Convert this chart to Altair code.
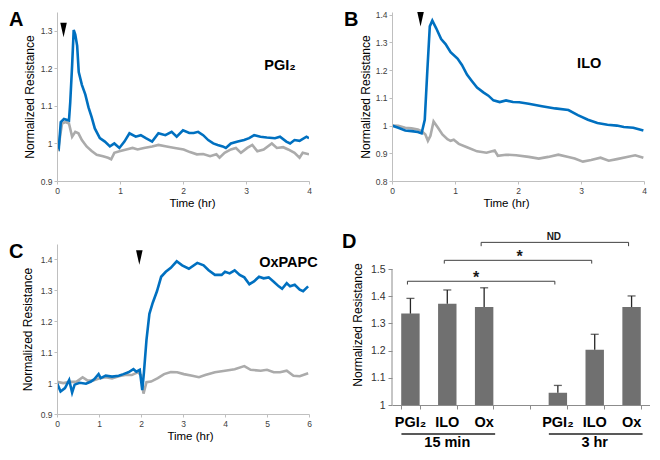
import altair as alt
import pandas as pd

# ---------------- data ----------------
a_blue_t = [0, 0.03, 0.06, 0.11, 0.19, 0.21, 0.24, 0.265, 0.29, 0.32, 0.345, 0.395, 0.45, 0.5, 0.55, 0.6,
            0.68, 0.76, 0.84, 0.91, 0.99, 1.07, 1.15, 1.25, 1.33, 1.41, 1.51, 1.61, 1.72, 1.82, 1.9, 2.0,
            2.1, 2.17, 2.24, 2.32, 2.40, 2.48, 2.55, 2.63, 2.68, 2.76, 2.87, 2.97, 3.05, 3.13, 3.23, 3.33,
            3.46, 3.54, 3.64, 3.70, 3.77, 3.85, 3.96, 4.0]
a_blue_v = [1.0, 0.99, 1.057, 1.065, 1.061, 1.109, 1.208, 1.302, 1.29, 1.26, 1.19, 1.156, 1.13, 1.096, 1.07,
            1.04, 1.014, 1.005, 0.992, 1.0, 0.988, 1.005, 1.027, 1.018, 1.022, 1.014, 1.005, 1.027, 1.022,
            1.031, 1.018, 1.035, 1.028, 1.028, 1.031, 1.022, 1.009, 1.0, 0.996, 0.992, 0.988, 1.0, 1.005,
            1.009, 1.014, 1.022, 1.018, 1.016, 1.014, 1.018, 1.005, 1.0, 1.009, 1.007, 1.018, 1.014]
a_gray_t = [0, 0.016, 0.05, 0.08, 0.135, 0.19, 0.24, 0.29, 0.34, 0.395, 0.47, 0.55, 0.63, 0.73, 0.81, 0.86,
            0.91, 0.99, 1.1, 1.2, 1.28, 1.38, 1.51, 1.61, 1.74, 1.87, 2.01, 2.11, 2.22, 2.32, 2.43, 2.53,
            2.58, 2.66, 2.76, 2.84, 2.92, 3.02, 3.10, 3.18, 3.28, 3.41, 3.49, 3.59, 3.67, 3.77, 3.85, 3.90, 4.0]
a_gray_v = [1.0, 0.98, 1.02, 1.053, 1.057, 1.053, 1.018, 1.031, 1.027, 1.009, 0.992, 0.98, 0.97, 0.966,
            0.962, 0.958, 0.975, 0.979, 0.984, 0.988, 0.984, 0.988, 0.992, 0.996, 0.992, 0.988, 0.984, 0.977,
            0.971, 0.972, 0.966, 0.971, 0.962, 0.975, 0.984, 0.988, 0.975, 0.988, 0.996, 0.979, 0.984, 1.0,
            0.988, 0.99, 0.984, 0.975, 0.962, 0.975, 0.971]

b_blue_t = [0, 0.1, 0.21, 0.31, 0.41, 0.47, 0.52, 0.56, 0.6, 0.64, 0.70, 0.78, 0.85, 0.93, 1.04, 1.11, 1.19,
            1.27, 1.35, 1.45, 1.53, 1.61, 1.71, 1.81, 1.92, 2.02, 2.17, 2.38, 2.59, 2.80, 2.95, 3.11, 3.26,
            3.42, 3.57, 3.68, 3.83, 3.99]
b_blue_v = [1.0, 0.992, 0.982, 0.98, 0.977, 0.972, 1.021, 1.195, 1.358, 1.379, 1.352, 1.312, 1.294, 1.265,
            1.242, 1.219, 1.184, 1.16, 1.137, 1.12, 1.108, 1.091, 1.085, 1.091, 1.085, 1.084, 1.079, 1.07,
            1.062, 1.056, 1.038, 1.021, 1.009, 1.003, 1.0, 0.995, 0.992, 0.982]
b_gray_t = [0, 0.1, 0.21, 0.31, 0.41, 0.47, 0.53, 0.57, 0.61, 0.66, 0.73, 0.80, 0.88, 0.93, 0.98, 1.06, 1.19,
            1.35, 1.50, 1.63, 1.68, 1.81, 1.97, 2.17, 2.33, 2.48, 2.64, 2.80, 2.90, 3.03, 3.16, 3.31, 3.44,
            3.57, 3.73, 3.86, 3.99]
b_gray_v = [1.0, 0.999, 0.992, 0.99, 0.986, 0.98, 0.968, 0.945, 0.963, 1.015, 0.992, 0.968, 0.951, 0.945,
            0.949, 0.934, 0.922, 0.907, 0.902, 0.91, 0.891, 0.895, 0.893, 0.887, 0.881, 0.887, 0.895, 0.887,
            0.881, 0.87, 0.876, 0.884, 0.873, 0.879, 0.887, 0.893, 0.884]

c_blue_t = [0, 0.085, 0.19, 0.29, 0.36, 0.42, 0.54, 0.69, 0.81, 0.89, 0.99, 1.04, 1.16, 1.31, 1.47, 1.58,
            1.70, 1.82, 1.89, 1.97, 2.03, 2.07, 2.13, 2.20, 2.28, 2.38, 2.48, 2.59, 2.71, 2.85, 2.98, 3.14,
            3.34, 3.49, 3.61, 3.76, 3.92, 4.0, 4.11, 4.23, 4.35, 4.46, 4.58, 4.69, 4.81, 4.92, 5.04, 5.16,
            5.28, 5.36, 5.47, 5.55, 5.66, 5.78, 5.86, 5.98]
c_blue_v = [1.0, 0.973, 0.984, 1.01, 0.969, 0.995, 1.001, 0.998, 1.005, 1.013, 1.029, 1.016, 1.024, 1.021,
            1.024, 1.029, 1.035, 1.045, 1.037, 1.043, 0.977, 1.035, 1.139, 1.224, 1.26, 1.297, 1.344, 1.36,
            1.373, 1.394, 1.381, 1.37, 1.389, 1.381, 1.365, 1.35, 1.35, 1.36, 1.355, 1.365, 1.35, 1.342,
            1.32, 1.329, 1.344, 1.339, 1.342, 1.328, 1.313, 1.305, 1.323, 1.313, 1.318, 1.302, 1.297, 1.313]
c_gray_t = [0, 0.15, 0.31, 0.46, 0.61, 0.73, 0.85, 1.0, 1.16, 1.31, 1.47, 1.62, 1.78, 1.92, 2.0, 2.06, 2.13,
            2.24, 2.4, 2.55, 2.71, 2.86, 3.02, 3.22, 3.38, 3.53, 3.76, 4.0, 4.23, 4.46, 4.61, 4.85, 5.0,
            5.16, 5.31, 5.47, 5.63, 5.78, 5.98]
c_gray_v = [1.004, 1.0, 1.004, 1.004, 1.019, 1.008, 1.008, 1.015, 1.019, 1.015, 1.022, 1.026, 1.026, 1.035,
            1.026, 0.966, 1.003, 1.005, 1.016, 1.029, 1.036, 1.035, 1.029, 1.024, 1.019, 1.026, 1.035, 1.04,
            1.045, 1.055, 1.043, 1.04, 1.043, 1.035, 1.035, 1.04, 1.024, 1.022, 1.032]

panel_letters = ["A", "B", "C", "D"]
panel_names = ["PGI₂", "ILO", "OxPAPC"]
name_t = [3.54, 3.13, 5.51]
name_v = [1.205, 1.222, 1.388]
arrow_t = [0.104, 0.453, 1.96]
arrow_v = [1.302, 1.384, 1.406]

yticks_a = [0.9, 1, 1.1, 1.2, 1.3]
yticks_b = [0.8, 0.9, 1, 1.1, 1.2, 1.3, 1.4]
yticks_c = [0.9, 1, 1.1, 1.2, 1.3, 1.4]
yticks_d = [1, 1.1, 1.2, 1.3, 1.4, 1.5]

bar_keys = ["PGI₂ 15 min", "ILO 15 min", "Ox 15 min", "gap", "PGI₂ 3 hr", "ILO 3 hr", "Ox 3 hr"]
bar_names = ["PGI₂", "ILO", "Ox", "", "PGI₂", "ILO", "Ox"]
bar_values = [1.336, 1.372, 1.36, None, 1.045, 1.203, 1.36]
bar_err_top = [1.392, 1.423, 1.431, None, 1.072, 1.26, 1.401]
groups = ["15 min", "3 hr"]
group_first = [0, 4]
group_last = [2, 6]
bracket_from = [0, 1, 2]
bracket_to = [4, 5, 6]
bracket_level = [1.455, 1.532, 1.598]
bracket_tip = [1.443, 1.520, 1.584]
bracket_label = ["*", "*", "ND"]

# ---------------- style ----------------
FONT = "Liberation Sans"
BLUE = "#0070C0"
GRAY = "#ABABAB"
AX = "#BFBFBF"
LBL = "#404040"
ARROW = "M-0.45,-1L0.45,-1L0,1Z"


def line_panel(bt, bv, gt, gv, xmax, ydom, yvals, w, h, letter, name, nt, nv, at, av,
               xtitle_x, ytitle_x):
    xs = alt.Scale(domain=[0, xmax], nice=False)
    ys = alt.Scale(domain=ydom, nice=False, zero=False)
    xax = alt.Axis(values=list(range(0, xmax + 1)), format="d", title="Time (hr)", tickSize=3,
                   labelPadding=2, titleX=xtitle_x, titleY=22, titleBaseline="middle",
                   titleFontSize=11.5, labelFlush=False, labelOverlap=False,
                   tickCount=xmax + 1)
    yax = alt.Axis(values=yvals, format=".1~f", title="Normalized Resistance", tickSize=3,
                   labelPadding=2, titleX=ytitle_x, titleY=h / 2, titleBaseline="middle",
                   labelOverlap=False, labelBound=False, labelFlush=False,
                   tickCount=len(yvals), zindex=1)

    def X(f):
        return alt.X(f, type="quantitative", scale=xs, axis=xax)

    def Y(f):
        return alt.Y(f, type="quantitative", scale=ys, axis=yax)

    gray = alt.Chart(pd.DataFrame({"t": gt, "v": gv})).mark_line(
        color=GRAY, strokeWidth=2.6, clip=True).encode(x=X("t"), y=Y("v"))
    blue = alt.Chart(pd.DataFrame({"t": bt, "v": bv})).mark_line(
        color=BLUE, strokeWidth=2.6, clip=True).encode(x=X("t"), y=Y("v"))
    txt = alt.Chart(pd.DataFrame({"t": [nt], "v": [nv], "s": [name]})).mark_text(
        font=FONT, fontSize=14.5, fontWeight="bold", color="black").encode(
        x=X("t"), y=Y("v"), text="s:N")
    arr = alt.Chart(pd.DataFrame({"t": [at], "v": [av]})).mark_point(
        shape=ARROW, filled=True, color="black", opacity=1, size=210).encode(
        x=X("t"), y=Y("v"))
    let = alt.Chart(pd.DataFrame({"s": [letter]})).mark_text(
        font=FONT, fontSize=20, fontWeight="bold", align="left", baseline="top",
        color="black").encode(x=alt.value(-48), y=alt.value(-2), text="s:N")
    return alt.layer(gray, blue, txt, arr, let).properties(width=w, height=h)


pA = line_panel(a_blue_t, a_blue_v, a_gray_t, a_gray_v, 4, [0.9, 1.35], yticks_a, 252, 169,
                panel_letters[0], panel_names[0], name_t[0], name_v[0], arrow_t[0], arrow_v[0],
                135, -28)
pB = line_panel(b_blue_t, b_blue_v, b_gray_t, b_gray_v, 4, [0.8, 1.41], yticks_b, 252, 169,
                panel_letters[1], panel_names[1], name_t[1], name_v[1], arrow_t[1], arrow_v[1],
                114, -27)
pC = line_panel(c_blue_t, c_blue_v, c_gray_t, c_gray_v, 6, [0.9, 1.45], yticks_c, 252, 170,
                panel_letters[2], panel_names[2], name_t[2], name_v[2], arrow_t[2], arrow_v[2],
                133, -30)

# ---------------- panel D ----------------
wD, hD = 258, 161
xsD = alt.Scale(domain=bar_keys, paddingInner=0.5, paddingOuter=0.25)
ysD = alt.Scale(domain=[1.0, 1.592], nice=False, zero=False)
xaxD = alt.Axis(labels=False, title=None, tickBand="extent", tickSize=4,
                domainColor="#8C8C8C", tickColor="#8C8C8C")
yaxD = alt.Axis(values=yticks_d, format=".1~f", domain=False, tickSize=4, tickColor="#8C8C8C",
                labelFontSize=10.5, labelPadding=3, labelColor="#333333", labelOverlap=False,
                title="Normalized Resistance", titleX=-35, titleY=hD / 2,
                titleBaseline="middle", tickCount=len(yticks_d))
dfD = pd.DataFrame({"k": bar_keys, "name": bar_names, "val": bar_values, "hi": bar_err_top})


def xd(field):
    return alt.X(field, type="nominal", scale=xsD, axis=xaxD, bandPosition=0.5)


def yd(field):
    return alt.Y(field, type="quantitative", scale=ysD, axis=yaxD)


bars = alt.Chart(dfD).mark_bar(color="#707070").encode(
    x=alt.X("k:N", scale=xsD, axis=xaxD), y=yd("val"), y2=alt.datum(1.0))
err = alt.Chart(dfD).mark_rule(color="#262626", strokeWidth=1.3).encode(
    x=xd("k"), y=yd("val"), y2="hi:Q")
cap = alt.Chart(dfD).mark_tick(color="#262626", thickness=1.3, size=8).encode(
    x=xd("k"), y=yd("hi"))
ydomain = alt.Chart(pd.DataFrame({"a": [yticks_d[0]], "b": [yticks_d[-1]]})).mark_rule(
    color="#8C8C8C", strokeWidth=1).encode(x=alt.value(0), y=yd("a"), y2="b:Q")

dfBr = pd.DataFrame({
    "c1": [bar_keys[i] for i in bracket_from],
    "c2": [bar_keys[i] for i in bracket_to],
    "mid": [bar_keys[(i + j) // 2] for i, j in zip(bracket_from, bracket_to)],
    "lvl": bracket_level, "tip": bracket_tip, "lab": bracket_label})
br_h = alt.Chart(dfBr).mark_rule(color="#404040", strokeWidth=1, xOffset=-3, x2Offset=-3).encode(
    x=xd("c1"), x2=alt.X2("c2", bandPosition=0.5), y=yd("lvl"))
br_l = alt.Chart(dfBr).mark_rule(color="#404040", strokeWidth=1, xOffset=-3).encode(
    x=xd("c1"), y=yd("lvl"), y2="tip:Q")
br_r = alt.Chart(dfBr).mark_rule(color="#404040", strokeWidth=1, xOffset=-3).encode(
    x=xd("c2"), y=yd("lvl"), y2="tip:Q")
lab_style = [(-8, 2, 16), (-1.5, 2, 16), (-4, -2, 10)]
br_txt = []
for i, (dx, dy, fs) in enumerate(lab_style):
    br_txt.append(alt.Chart(dfBr.iloc[[i]]).mark_text(
        font=FONT, fontWeight="bold", fontSize=fs, dx=dx, dy=dy, baseline="alphabetic",
        color="#1a1a1a").encode(x=xd("mid"), y=yd("lvl"), text="lab:N"))

cat_lab = alt.Chart(dfD).mark_text(font=FONT, fontWeight="bold", fontSize=14.5,
                                   baseline="middle", color="black").encode(
    x=xd("k"), y=alt.value(hD + 17.5), text="name:N")
dfG = pd.DataFrame({"g": groups, "g1": [bar_keys[i] for i in group_first],
                    "g2": [bar_keys[i] for i in group_last],
                    "gm": [bar_keys[(i + j) // 2] for i, j in zip(group_first, group_last)]})
g_line = alt.Chart(dfG).mark_rule(color="#595959", strokeWidth=2, xOffset=-9, x2Offset=11).encode(
    x=xd("g1"), x2=alt.X2("g2", bandPosition=0.5), y=alt.value(hD + 29))
g_lab = alt.Chart(dfG).mark_text(font=FONT, fontWeight="bold", fontSize=14.5,
                                 baseline="middle", color="black").encode(
    x=xd("gm"), y=alt.value(hD + 37.5), text="g:N")
letD = alt.Chart(pd.DataFrame({"s": [panel_letters[3]]})).mark_text(
    font=FONT, fontSize=20, fontWeight="bold", align="left", baseline="top",
    color="black").encode(x=alt.value(-50), y=alt.value(-12), text="s:N")

pD = alt.layer(bars, err, cap, ydomain, br_h, br_l, br_r, *br_txt, cat_lab, g_line, g_lab,
               letD).properties(width=wD, height=hD)

chart = alt.concat(pA, pB, pC, pD, columns=2, spacing={"row": 63, "column": 83},
                   bounds="flush", align="each").properties(
    padding={"top": 2, "left": 1, "right": 0, "bottom": 0}).configure(
    font=FONT).configure_view(stroke=None).configure_axis(
    grid=False, domainColor=AX, tickColor=AX, labelColor=LBL, labelFontSize=8.5,
    labelFont=FONT, titleFont=FONT, titleFontSize=12, titleFontWeight="normal",
    titleColor="black")

chart.save("out.html", embed_options={"renderer": "svg", "actions": False})
